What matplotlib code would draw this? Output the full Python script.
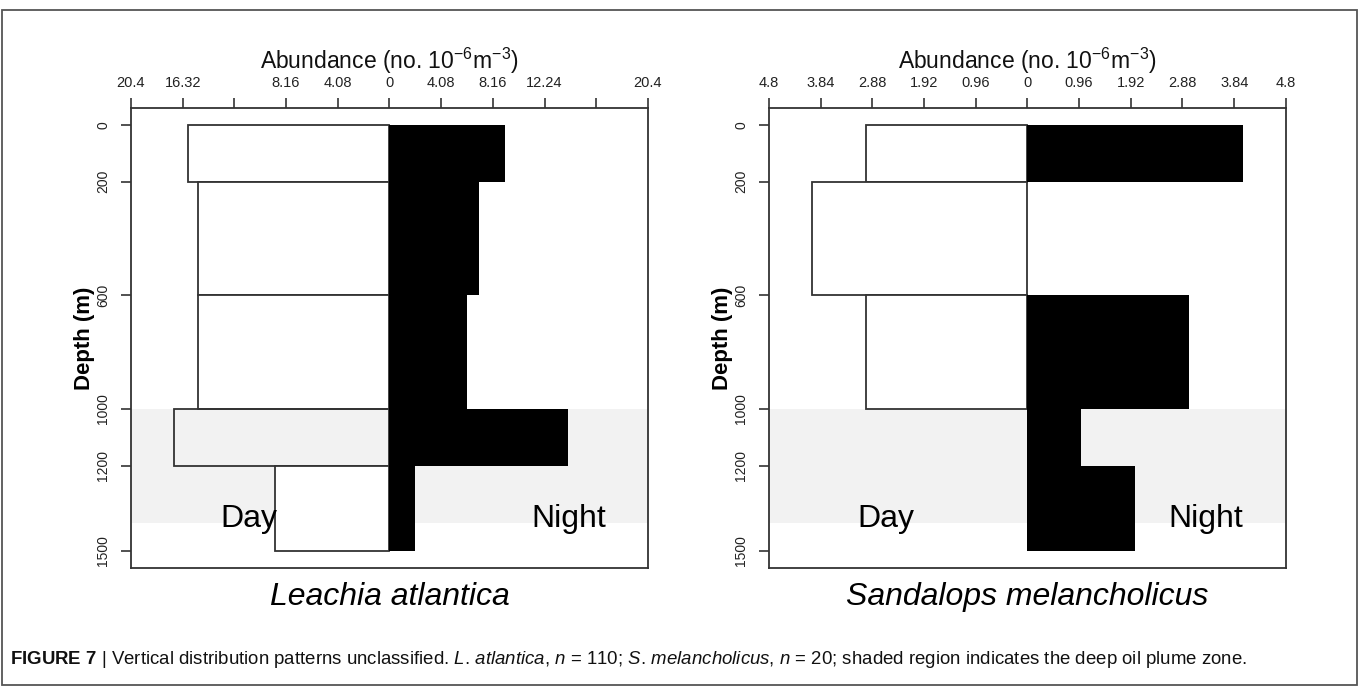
import matplotlib
matplotlib.use("Agg")
import matplotlib.pyplot as plt
from matplotlib.patches import Rectangle
import numpy as np

plt.rcParams["font.family"] = "Liberation Sans"
plt.rcParams["mathtext.fontset"] = "custom"
plt.rcParams["mathtext.rm"] = "Liberation Sans"
plt.rcParams["mathtext.it"] = "Liberation Sans:italic"
plt.rcParams["mathtext.bf"] = "Liberation Sans:bold"

# Net layers (m): edges of each sampled depth interval
DEPTH_EDGES = [0, 200, 600, 1000, 1200, 1500]
DEPTH_TICKS = [0, 200, 600, 1000, 1200, 1500]
PLUME_TOP, PLUME_BOTTOM = 1000, 1400

# Abundance (no. 10^-6 m^-3) per layer, day and night tows
LEACHIA_DAY = [15.9, 15.1, 15.1, 17.0, 9.0]
LEACHIA_NIGHT = [9.1, 7.1, 6.1, 14.1, 2.0]
SANDALOPS_DAY = [3.0, 4.0, 3.0, 0.0, 0.0]
SANDALOPS_NIGHT = [4.0, 0.0, 3.0, 1.0, 2.0]

LEACHIA_XMAX = 20.4
LEACHIA_TICK_LABELS = ["20.4", "16.32", "", "8.16", "4.08", "0",
                       "4.08", "8.16", "12.24", "", "20.4"]
SANDALOPS_XMAX = 4.8
SANDALOPS_TICK_LABELS = ["4.8", "3.84", "2.88", "1.92", "0.96", "0",
                         "0.96", "1.92", "2.88", "3.84", "4.8"]

XLABEL = r"Abundance (no. 10$^{-6}$m$^{-3}$)"
CAPTION = (r"$\mathbf{FIGURE}$ $\mathbf{7}$ | Vertical distribution patterns unclassified. "
           r"$\mathit{L.\,atlantica}$, $\mathit{n}$ = 110; "
           r"$\mathit{S.\,melancholicus}$, $\mathit{n}$ = 20; "
           r"shaded region indicates the deep oil plume zone.")

AX_COLOR = "#222222"


def draw_panel(ax, day, night, xmax, tick_labels, species, day_x, night_x):
    """Back-to-back day/night depth profile with the plume zone shaded."""
    tops = np.array(DEPTH_EDGES[:-1], dtype=float)
    thick = np.diff(DEPTH_EDGES).astype(float)
    day = np.asarray(day, dtype=float)
    night = np.asarray(night, dtype=float)

    ax.axhspan(PLUME_TOP, PLUME_BOTTOM, color="#f2f2f2", lw=0, zorder=0)

    has_day = day > 0
    faces = ["none" if PLUME_TOP <= t < 1200 else "white" for t in tops[has_day]]
    ax.barh(tops[has_day], -day[has_day], height=thick[has_day], align="edge",
            facecolor=faces, edgecolor="#333333", linewidth=1.3, zorder=2)
    has_night = night > 0
    ax.barh(tops[has_night], night[has_night], height=thick[has_night],
            align="edge", color="black", linewidth=0, zorder=3)

    ax.set_xlim(-xmax, xmax)
    ax.set_ylim(1560, -60)

    ax.xaxis.tick_top()
    ax.xaxis.set_label_position("top")
    ax.set_xticks(np.linspace(-xmax, xmax, 11))
    ax.set_xticklabels(tick_labels)
    ax.set_xlabel(XLABEL, fontsize=16.5, labelpad=5, color="#111111")

    ax.set_yticks(DEPTH_TICKS)
    ax.set_yticklabels([str(d) for d in DEPTH_TICKS], rotation=90, va="center")
    ax.set_ylabel("Depth (m)", fontsize=16, fontweight="bold", labelpad=1)

    ax.tick_params(axis="x", direction="out", length=7, width=1.1,
                   pad=6, labelsize=10.5, colors=AX_COLOR)
    ax.tick_params(axis="y", direction="out", length=7, width=1.1,
                   pad=8, labelsize=10, colors=AX_COLOR)
    for spine in ax.spines.values():
        spine.set_color("#333333")
        spine.set_linewidth(1.3)

    ax.text(day_x, 1415, "Day", fontsize=23, ha="center", va="baseline", zorder=4)
    ax.text(night_x, 1415, "Night", fontsize=23, ha="center", va="baseline", zorder=4)
    ax.text(0.5, -0.062, species, transform=ax.transAxes, fontsize=23,
            fontstyle="italic", ha="center", va="center")


fig = plt.figure(figsize=(13.6, 6.86), dpi=100)
ax_left = fig.add_axes([0.0963, 0.172, 0.3801, 0.671])
ax_right = fig.add_axes([0.5654, 0.172, 0.3801, 0.671])

draw_panel(ax_left, LEACHIA_DAY, LEACHIA_NIGHT, LEACHIA_XMAX,
           LEACHIA_TICK_LABELS, "Leachia atlantica", -11.09, 14.13)
draw_panel(ax_right, SANDALOPS_DAY, SANDALOPS_NIGHT, SANDALOPS_XMAX,
           SANDALOPS_TICK_LABELS, "Sandalops melancholicus", -2.62, 3.31)

# frame around the figure and caption
fig.add_artist(Rectangle((2 / 1360, 1 / 686), 1355 / 1360, 675 / 686,
                         transform=fig.transFigure, fill=False,
                         edgecolor="#555555", linewidth=1.3))
fig.text(10 / 1360, 1 - 660 / 686, CAPTION, fontsize=13.4, va="center",
         ha="left", color="#111111")

fig.savefig("out.png", dpi=100)
